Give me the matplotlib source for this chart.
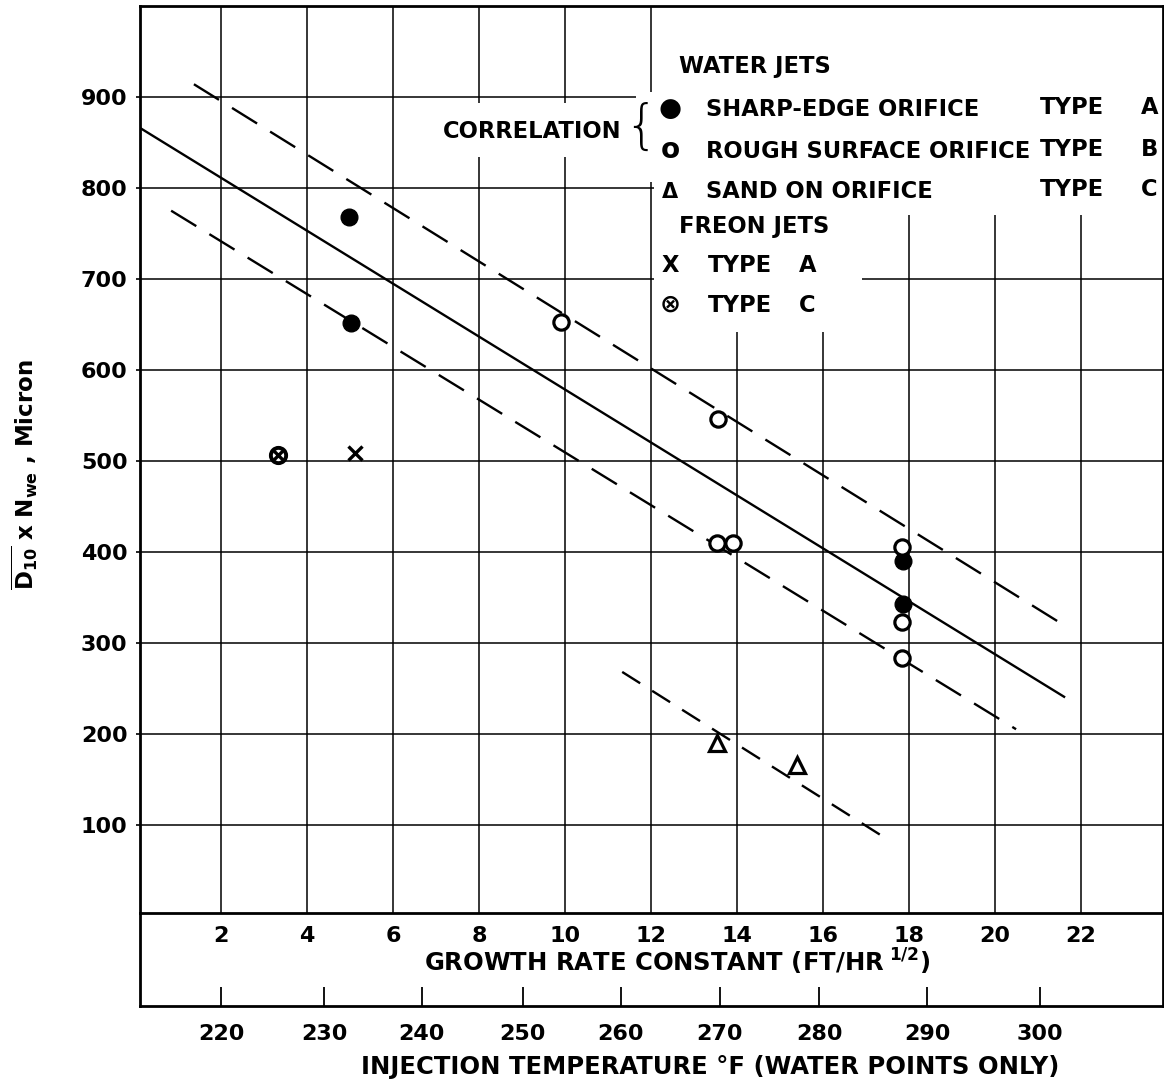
import matplotlib
matplotlib.use('Agg')
import matplotlib.pyplot as plt
from matplotlib.patches import Polygon, Rectangle

# ---------------- data ----------------
# x: growth rate constant (FT/HR^1/2), y: D10 x Nwe (micron)
typeA_g = [4.98, 5.02, 17.86, 17.86]
typeA_v = [768, 652, 390, 343]
typeB_g = [9.91, 13.56, 13.53, 13.90, 17.84, 17.84, 17.84]
typeB_v = [653, 546, 410, 410, 405, 323, 283]
typeC_g = [13.53, 15.40]
typeC_v = [190, 166]
freonA_g = [5.12]
freonA_v = [509]
freonC_g = [3.33]
freonC_v = [506]

corr_g = [0.116, 21.63]
corr_v = [866, 240]
upper_g = [1.37, 21.65]
upper_v = [914, 318]
lower_g = [0.84, 20.49]
lower_v = [775, 205]
sand_g = [11.33, 17.53]
sand_v = [268, 83]

growth_ticks = [2, 4, 6, 8, 10, 12, 14, 16, 18, 20, 22]
value_ticks = [100, 200, 300, 400, 500, 600, 700, 800, 900]
temp_labels = [220, 230, 240, 250, 260, 270, 280, 290, 300]
temp_pos_growth = [2.0, 4.40, 6.67, 9.02, 11.30, 13.60, 15.91, 18.42, 21.05]

# ---------------- style ----------------
plt.rcParams['font.family'] = ['DejaVu Sans']
plt.rcParams['font.weight'] = 'bold'
plt.rcParams['mathtext.fontset'] = 'custom'
plt.rcParams['mathtext.rm'] = 'DejaVu Sans:bold'
plt.rcParams['mathtext.it'] = 'DejaVu Sans:bold'
plt.rcParams['mathtext.bf'] = 'DejaVu Sans:bold'
plt.rcParams['mathtext.sf'] = 'DejaVu Sans:bold'
plt.rcParams['mathtext.default'] = 'rm'

W, H = 1164, 1083
fig = plt.figure(figsize=(W / 100, H / 100), dpi=100)

L, R, T, B, B2 = 140, 1163, 6, 913, 1006
ax2 = fig.add_axes([L / W, 1 - B2 / H, (R - L) / W, (B2 - B) / H])
ax = fig.add_axes([L / W, 1 - B / H, (R - L) / W, (B - T) / H])
ax.set_zorder(3)
ax2.set_zorder(1)

xlim = (0.116, 23.907)
ylim = (3, 1000)
ax.set_xlim(*xlim)
ax.set_ylim(*ylim)
ax2.set_xlim(*xlim)
ax2.set_ylim(0, 1)

FS = 16
LFS = 16.3
AFS = 17.5
# grid
ax.set_xticks(growth_ticks)
ax.set_yticks(value_ticks)
ax.set_xticklabels([str(t) for t in growth_ticks], fontsize=FS, fontweight='bold')
ax.set_yticklabels([str(t) for t in value_ticks], fontsize=FS, fontweight='bold')
ax.tick_params(axis='x', length=0, pad=9)
ax.tick_params(axis='y', length=3, width=1.2, pad=6)
ax.grid(True, color='black', linewidth=1.1)
ax.set_axisbelow(True)
for s in ax.spines.values():
    s.set_linewidth(2.0)

# white masks behind legend texts (hide grid there)
def axf(px, py):
    return ((px - L) / (R - L), (B - py) / (B - T))

mask_pts = [axf(654, T), axf(R, T), axf(R, 215), axf(862, 215), axf(862, 332),
            axf(654, 332), axf(654, 182), axf(636, 182), axf(636, 92), axf(654, 92)]
ax.add_patch(Polygon(mask_pts, closed=True, transform=ax.transAxes,
                     facecolor='white', edgecolor='none', zorder=1))
x0, y0 = axf(432, 157)
x1, y1 = axf(634, 103)
ax.add_patch(Rectangle((x0, y0), x1 - x0, y1 - y0, transform=ax.transAxes,
                       facecolor='white', edgecolor='none', zorder=1))

# correlation lines
ax.plot(corr_g, corr_v, color='black', lw=1.7, zorder=2, solid_capstyle='butt')
ax.plot(upper_g, upper_v, color='black', lw=1.7, dashes=[12.5, 6.5], zorder=2)
ax.plot(lower_g, lower_v, color='black', lw=1.7, dashes=[12.5, 6.5], zorder=2)
ax.plot(sand_g, sand_v, color='black', lw=1.7, dashes=[9, 6], zorder=2)

# points
ax.plot(typeA_g, typeA_v, 'o', ms=12, color='black', zorder=3)
ax.plot(typeB_g, typeB_v, 'o', ms=11, mfc='white', mec='black', mew=2.3, zorder=3)
ax.plot(typeC_g, typeC_v, '^', ms=11, mfc='white', mec='black', mew=2.3, zorder=3)
ax.plot(freonA_g, freonA_v, 'x', ms=10, color='black', mew=2.4, zorder=3)
ax.plot(freonC_g, freonC_v, 'o', ms=11, mfc='white', mec='black', mew=2.8, zorder=3)
ax.plot(freonC_g, freonC_v, 'x', ms=7, color='black', mew=2.4, zorder=3)

# lower box axis (temperature scale)
ax2.set_yticks([])
ax2.spines['top'].set_visible(False)
for s in ['left', 'right', 'bottom']:
    ax2.spines[s].set_linewidth(2.0)
ax2.set_xticks(temp_pos_growth)
ax2.set_xticklabels([str(t) for t in temp_labels], fontsize=FS, fontweight='bold')
ax2.tick_params(axis='x', direction='in', length=14, width=1.3, pad=13)

# axis labels
fig.text(677 / W, 1 - 962 / H, r'GROWTH RATE CONSTANT (FT/HR$^{\ 1/2}$)',
         fontsize=AFS, fontweight='bold', ha='center', va='center', zorder=5)
fig.text(710 / W, 1 - 1067 / H, 'INJECTION TEMPERATURE °F (WATER POINTS ONLY)',
         fontsize=AFS, fontweight='bold', ha='center', va='center')
fig.text(25 / W, 1 - 475 / H,
         r'$\overline{\mathrm{D}_{\mathrm{10}}}$ x N$_{\mathrm{we}}$ , Micron',
         fontsize=FS + 0.5, fontweight='bold', ha='center', va='center', rotation=90)

# legend texts
def ftxt(px, py, s, **kw):
    d = dict(fontsize=LFS, fontweight='bold', ha='left', va='center', zorder=5)
    d.update(kw)
    fig.text(px / W, 1 - py / H, s, **d)

ftxt(679, 66, 'WATER JETS')
ftxt(443, 132, 'CORRELATION')
ftxt(641, 128, '{', fontsize=38, fontweight='light', ha='center')
ftxt(670, 109, '●', ha='center', fontsize=19)
ftxt(706, 110, 'SHARP-EDGE ORIFICE')
ftxt(1040, 108, 'TYPE')
ftxt(1158, 108, 'A', ha='right')
ftxt(670, 150, 'o', ha='center', fontsize=20)
ftxt(706, 151, 'ROUGH SURFACE ORIFICE')
ftxt(1040, 149, 'TYPE')
ftxt(1158, 149, 'B', ha='right')
ftxt(670, 192, 'Δ', ha='center', fontsize=15)
ftxt(706, 191, 'SAND ON ORIFICE')
ftxt(1040, 190, 'TYPE')
ftxt(1158, 190, 'C', ha='right')
ftxt(679, 227, 'FREON JETS')
ftxt(670, 265, 'X', ha='center')
ftxt(708, 265, 'TYPE')
ftxt(816, 265, 'A', ha='right')
ftxt(670, 305, '⊗', ha='center', fontsize=18)
ftxt(708, 305, 'TYPE')
ftxt(816, 305, 'C', ha='right')

fig.savefig('out.png', dpi=100)
